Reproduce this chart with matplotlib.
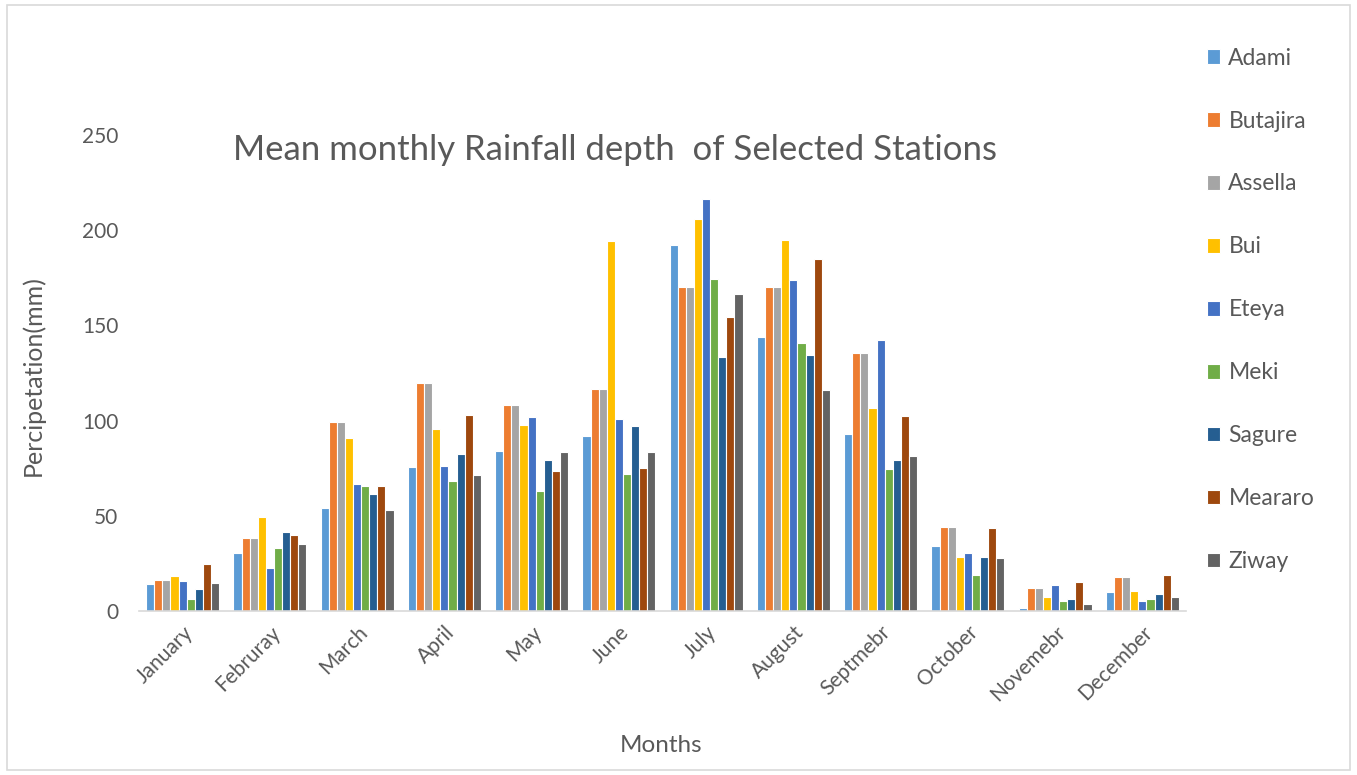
import numpy as np
import matplotlib.pyplot as plt
from matplotlib.patches import Rectangle

plt.rcParams['font.family'] = ['Lato', 'DejaVu Sans']

months = ['January', 'Februray', 'March', 'April', 'May', 'June', 'July',
          'August', 'Septmebr', 'October', 'Novemebr', 'December']
stations = ['Adami', 'Butajira', 'Assella', 'Bui', 'Eteya', 'Meki',
            'Sagure', 'Meararo', 'Ziway']

adami = [14.2, 30.5, 54.1, 75.6, 83.9, 91.7, 192.2, 144.1, 92.8, 34.1, 1.8, 10.0]
butajira = [16.5, 38.3, 99.3, 119.7, 108.4, 116.4, 170.0, 170.2, 135.3, 44.0, 12.1, 17.7]
assella = [16.5, 38.3, 99.3, 119.7, 108.4, 116.4, 170.0, 170.2, 135.3, 44.0, 12.1, 17.7]
bui = [18.6, 49.5, 91.0, 95.4, 97.5, 194.5, 205.9, 194.9, 106.5, 28.4, 7.4, 10.5]
eteya = [15.8, 22.8, 66.5, 76.0, 101.7, 100.8, 216.4, 174.0, 142.2, 30.3, 13.7, 5.3]
meki = [6.3, 33.1, 65.8, 68.3, 62.9, 72.0, 174.5, 140.9, 74.6, 18.9, 5.3, 6.1]
sagure = [11.6, 41.5, 61.3, 82.3, 79.3, 97.3, 133.4, 134.5, 79.5, 28.5, 6.3, 8.8]
meararo = [24.5, 39.9, 65.6, 103.1, 73.4, 74.9, 154.4, 184.7, 102.3, 43.4, 15.2, 18.9]
ziway = [14.5, 35.2, 52.9, 71.3, 83.7, 83.7, 166.3, 115.9, 81.6, 28.0, 3.7, 7.4]

series = [adami, butajira, assella, bui, eteya, meki, sagure, meararo, ziway]
colors = ['#5B9BD5', '#ED7D31', '#A5A5A5', '#FFC000', '#4472C4', '#70AD47',
          '#255E91', '#9E480E', '#636363']
txt = '#595959'

fig = plt.figure(figsize=(13.57, 7.75), dpi=100)
ax = fig.add_axes([139 / 1357, 1 - 611 / 775, (1186 - 139) / 1357, (611 - 135) / 775])

x = np.arange(len(months))
w = 0.836 / 9
for i, (vals, name) in enumerate(zip(series, stations)):
    ax.bar(x + (i - 4) * w, vals, w, color=colors[i], edgecolor='white',
           linewidth=0.8, label=name)

ax.set_xlim(-0.5, 11.5)
ax.set_ylim(0, 250)
ax.set_yticks(range(0, 251, 50))
ax.set_xticks(x)
ax.set_xticklabels(months, rotation=45, ha='right', rotation_mode='anchor')
ax.tick_params(axis='both', length=0, colors=txt, labelsize=15)
ax.tick_params(axis='y', pad=15)
ax.tick_params(axis='x', pad=8)
for s in ['top', 'right', 'left']:
    ax.spines[s].set_visible(False)
ax.spines['bottom'].set_color('#D9D9D9')
ax.spines['bottom'].set_linewidth(1.2)

fig.text(615 / 1357, 1 - 150 / 775, 'Mean monthly Rainfall depth  of Selected Stations',
         ha='center', va='center', fontsize=25, color=txt)
fig.text(661 / 1357, 1 - 745 / 775, 'Months', ha='center', va='center',
         fontsize=17.5, color=txt)
fig.text(33 / 1357, 1 - 376 / 775, 'Percipetation(mm)', ha='center', va='center',
         rotation=90, fontsize=18, color=txt)

fig.legend(loc='upper left', bbox_to_anchor=(1186 / 1357, 1 - 27 / 775),
           frameon=False, fontsize=16.5, labelcolor=txt, handlelength=0.6,
           handleheight=0.6, handletextpad=0.35, labelspacing=1.83)

fig.patches.append(Rectangle((7 / 1357, 5 / 775), 1343 / 1357, 765 / 775,
                             transform=fig.transFigure, fill=False,
                             edgecolor='#D9D9D9', linewidth=1.2))

fig.savefig('out.png', dpi=100)
